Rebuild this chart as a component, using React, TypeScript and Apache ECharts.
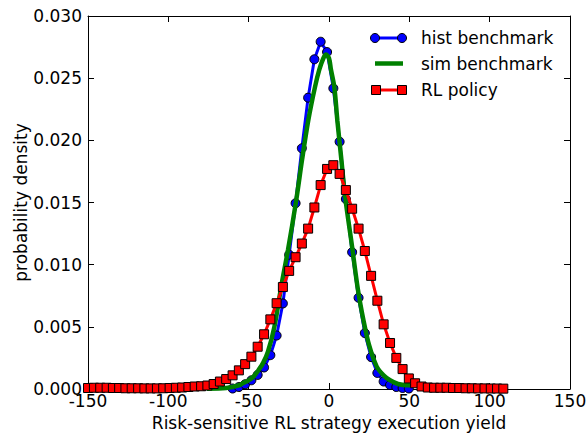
import React, { useEffect, useRef } from "react";
import * as echarts from "echarts";

const xTicks = [-150, -100, -50, 0, 50, 100, 150];

const histX = [-60.0, -56.1, -52.2, -48.3, -44.4, -40.4, -36.5, -32.6, -28.7, -24.8, -20.8, -16.9, -13.0, -9.1, -5.2, -1.2, 2.7, 6.6, 10.5, 14.4, 18.4, 22.3, 26.2, 30.1, 34.0, 38.0, 41.9, 45.8, 49.7];
const histY = [0.00004, 0.00016, 0.00038, 0.0007, 0.00113, 0.00173, 0.00272, 0.0043, 0.00688, 0.0108, 0.01494, 0.01936, 0.02343, 0.02652, 0.02793, 0.0271, 0.02418, 0.01989, 0.01528, 0.011, 0.00734, 0.0045, 0.00257, 0.00129, 0.0006, 0.00032, 0.00016, 0.00008, 0.00004];

const simX = [-76, -64, -56, -53, -50, -47, -44, -41, -38, -34, -29.4, -25.5, -20.5, -16.7, -12.9, -8.7, -6, -3.5, -1.9, 0, 1.2, 3.3, 5.2, 7.5, 10, 14.1, 18, 21.5, 25, 29.7, 34, 38, 43, 48.4, 50.5];
const simY = [0.00003, 0.00008, 0.0003, 0.0005, 0.0007, 0.001, 0.0015, 0.0021, 0.003, 0.005, 0.0085, 0.0112, 0.0151, 0.0185, 0.0216, 0.0243, 0.0257, 0.0266, 0.0269, 0.0266, 0.0257, 0.0243, 0.0216, 0.0187, 0.0155, 0.0117, 0.008, 0.0055, 0.0035, 0.0018, 0.0011, 0.0007, 0.0004, 0.0003, 0.0003];

const rlX = [-150.0, -146.3, -142.4, -138.4, -134.5, -130.6, -126.7, -122.8, -118.8, -114.9, -111.0, -107.1, -103.2, -99.2, -95.3, -91.4, -87.5, -83.6, -79.6, -75.7, -71.8, -67.9, -64.0, -60.0, -56.1, -52.2, -48.3, -44.4, -40.4, -36.5, -32.6, -28.7, -24.8, -20.8, -16.9, -13.0, -9.1, -5.2, -1.2, 2.7, 6.6, 10.5, 14.4, 18.4, 22.3, 26.2, 30.1, 34.0, 38.0, 41.9, 45.8, 49.7, 53.6, 57.6, 61.5, 65.4, 69.3, 73.2, 77.2, 81.1, 85.0, 88.9, 92.8, 96.8, 100.7, 104.6, 108.5];
const rlY = [0.00008, 0.0001, 0.0001, 0.0001, 0.00008, 0.00008, 0.00006, 0.00006, 0.00006, 0.00005, 0.00005, 0.00005, 0.00006, 0.00008, 0.0001, 0.00012, 0.00016, 0.0002, 0.00022, 0.00028, 0.0004, 0.0006, 0.0008, 0.0011, 0.0015, 0.002, 0.0026, 0.0034, 0.0044, 0.0056, 0.0069, 0.0082, 0.0095, 0.0106, 0.0117, 0.0129, 0.0146, 0.0164, 0.0177, 0.018, 0.0173, 0.016, 0.0145, 0.0129, 0.0111, 0.0091, 0.0071, 0.0052, 0.0037, 0.0025, 0.0016, 0.00085, 0.00046, 0.0002, 0.00012, 0.0001, 0.0001, 0.0001, 0.00008, 0.00008, 0.00006, 0.00006, 0.00005, 0.00005, 0.00004, 0.00004, 0.00003];

const seriesNames = ["hist benchmark", "sim benchmark", "RL policy"];

const FONT = "DejaVu Sans";
const FS = 17;

export default function App() {
  const ref = useRef<HTMLDivElement>(null);
  useEffect(() => {
    if (!ref.current) return;
    const chart = echarts.init(ref.current, null, { renderer: "svg" });
    const baseAxis = {
      type: "value" as const,
      axisLine: { show: true, onZero: false, lineStyle: { color: "#000", width: 1 } },
      axisTick: { show: true, inside: true, length: 6, lineStyle: { color: "#000" } },
      splitLine: { show: false },
    };
    chart.setOption({
      animation: false,
      backgroundColor: "#fff",
      textStyle: { fontFamily: FONT },
      grid: { left: 88, right: 17, top: 16, bottom: 46, containLabel: false, outerBoundsMode: "none" },
      xAxis: [
        {
          ...baseAxis,
          min: -150,
          max: 150,
          interval: 50,
          position: "bottom",
          axisLabel: { color: "#000", fontSize: FS, fontFamily: FONT, margin: 3 },
          name: "Risk-sensitive RL strategy execution yield",
          nameLocation: "middle",
          nameGap: 25,
          nameMoveOverlap: false,
          nameTextStyle: { color: "#000", fontSize: FS, fontFamily: FONT },
        },
        {
          ...baseAxis,
          min: -150,
          max: 150,
          interval: 50,
          position: "top",
          axisLabel: { show: false },
        },
      ],
      yAxis: [
        {
          ...baseAxis,
          min: 0,
          max: 0.03,
          interval: 0.005,
          position: "left",
          axisLabel: {
            color: "#000",
            fontSize: FS,
            fontFamily: FONT,
            margin: 6,
            formatter: (v: number) => v.toFixed(3),
          },
          name: "probability density",
          nameLocation: "middle",
          nameGap: 59,
          nameMoveOverlap: false,
          nameTextStyle: { color: "#000", fontSize: FS, fontFamily: FONT },
        },
        {
          ...baseAxis,
          min: 0,
          max: 0.03,
          interval: 0.005,
          position: "right",
          axisLabel: { show: false },
        },
      ],
      series: [
        {
          name: seriesNames[0],
          type: "line",
          data: histX.map((x, i) => [x, histY[i]]),
          symbol: "circle",
          symbolSize: 9,
          showAllSymbol: true,
          lineStyle: { color: "#0000ff", width: 3 },
          itemStyle: { color: "#0000ff", borderColor: "#000", borderWidth: 1 },
          z: 2,
        },
        {
          name: seriesNames[1],
          type: "line",
          data: simX.map((x, i) => [x, simY[i]]),
          symbol: "none",
          smooth: 0.3,
          lineStyle: { color: "#008000", width: 4.5 },
          itemStyle: { color: "#008000" },
          z: 3,
        },
        {
          name: seriesNames[2],
          type: "line",
          data: rlX.map((x, i) => [x, rlY[i]]),
          symbol: "rect",
          symbolSize: 9,
          showAllSymbol: true,
          lineStyle: { color: "#ff0000", width: 3 },
          itemStyle: { color: "#ff0000", borderColor: "#000", borderWidth: 1 },
          z: 4,
        },
      ],
      graphic: [
        { type: "line", shape: { x1: 375, y1: 38, x2: 402, y2: 38 }, style: { stroke: "#0000ff", lineWidth: 3 }, z: 10 },
        { type: "circle", shape: { cx: 375, cy: 38, r: 4.5 }, style: { fill: "#0000ff", stroke: "#000", lineWidth: 1 }, z: 11 },
        { type: "circle", shape: { cx: 402, cy: 38, r: 4.5 }, style: { fill: "#0000ff", stroke: "#000", lineWidth: 1 }, z: 11 },
        { type: "text", x: 421, y: 38, style: { text: seriesNames[0], fill: "#000", font: `${FS}px "${FONT}"`, verticalAlign: "middle", align: "left" }, z: 10 },
        { type: "line", shape: { x1: 375, y1: 63.5, x2: 403, y2: 63.5 }, style: { stroke: "#008000", lineWidth: 4.5 }, z: 10 },
        { type: "text", x: 421, y: 63.5, style: { text: seriesNames[1], fill: "#000", font: `${FS}px "${FONT}"`, verticalAlign: "middle", align: "left" }, z: 10 },
        { type: "line", shape: { x1: 376, y1: 90, x2: 402, y2: 90 }, style: { stroke: "#ff0000", lineWidth: 3 }, z: 10 },
        { type: "rect", shape: { x: 371.5, y: 85.5, width: 9, height: 9 }, style: { fill: "#ff0000", stroke: "#000", lineWidth: 1 }, z: 11 },
        { type: "rect", shape: { x: 397.5, y: 85.5, width: 9, height: 9 }, style: { fill: "#ff0000", stroke: "#000", lineWidth: 1 }, z: 11 },
        { type: "text", x: 421, y: 90, style: { text: seriesNames[2], fill: "#000", font: `${FS}px "${FONT}"`, verticalAlign: "middle", align: "left" }, z: 10 },
      ],
    });
    return () => chart.dispose();
  }, []);
  return <div ref={ref} style={{ width: 587, height: 435, position: "absolute", left: 0, top: 0 }} />;
}
